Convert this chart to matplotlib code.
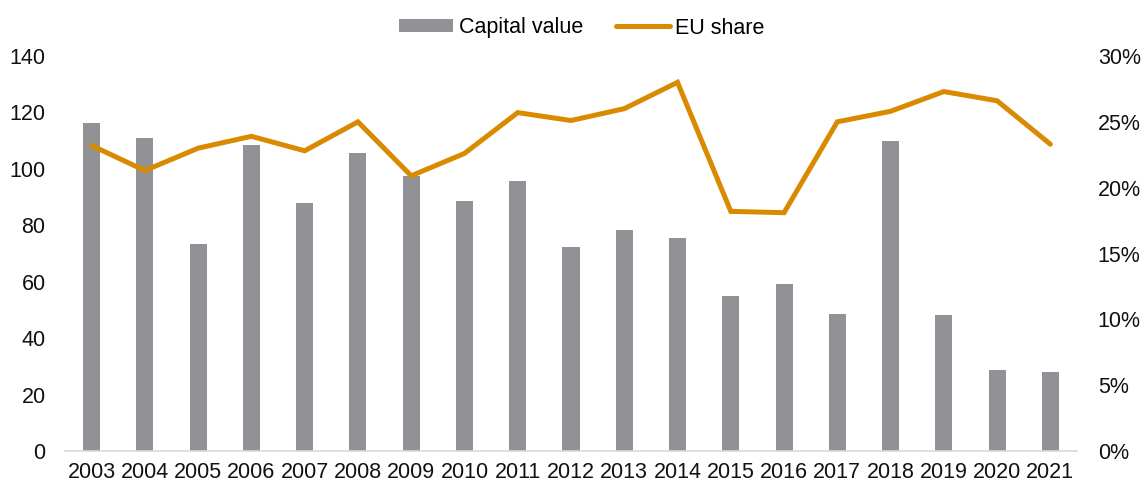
import matplotlib
matplotlib.use("Agg")
import matplotlib.pyplot as plt
from matplotlib.ticker import FuncFormatter

years = ["2003", "2004", "2005", "2006", "2007", "2008", "2009", "2010", "2011", "2012",
         "2013", "2014", "2015", "2016", "2017", "2018", "2019", "2020", "2021"]
capital_value = [116.3, 111.0, 73.4, 108.5, 87.9, 105.6, 97.5, 88.6, 95.7, 72.3,
                 78.3, 75.5, 54.9, 59.2, 48.6, 109.9, 48.2, 28.7, 28.0]
eu_share = [23.2, 21.3, 23.0, 23.9, 22.8, 25.0, 20.9, 22.6, 25.7, 25.1,
            26.0, 28.0, 18.2, 18.1, 25.0, 25.8, 27.3, 26.6, 23.3]

plt.rcParams['font.family'] = ['Liberation Sans', 'DejaVu Sans']

fig = plt.figure(figsize=(11.41, 4.84), dpi=100)
ax = fig.add_axes([65 / 1141, 33 / 484, (1077 - 65) / 1141, (451 - 56) / 484])
ax2 = ax.twinx()

x = list(range(len(years)))
bars = ax.bar(x, capital_value, width=0.32, color='#929196', label='Capital value', zorder=2)
line, = ax2.plot(x, eu_share, color='#D98A00', linewidth=3.6, solid_capstyle='round',
                 solid_joinstyle='miter', label='EU share', zorder=3)

ax.set_xlim(-0.5, len(years) - 0.5)
ax.set_ylim(0, 140)
ax.set_yticks(range(0, 141, 20))
ax2.set_ylim(0, 30)
ax2.set_yticks(range(0, 31, 5))
ax2.yaxis.set_major_formatter(FuncFormatter(lambda v, p: f"{int(v)}%"))

ax.set_xticks(x)
ax.set_xticklabels(years)

for a in (ax, ax2):
    for s in ['top', 'right', 'left', 'bottom']:
        a.spines[s].set_visible(False)
ax.spines['bottom'].set_visible(True)
ax.spines['bottom'].set_color('#d9d9d9')
ax.spines['bottom'].set_linewidth(1.2)

fs = 15.5
ax.tick_params(axis='y', length=0, labelsize=fs, pad=14, labelcolor='#111111')
ax.tick_params(axis='x', length=0, labelsize=fs, pad=8, labelcolor='#111111')
ax2.tick_params(axis='y', length=0, labelsize=fs, pad=15, labelcolor='#111111')

ax.set_zorder(ax2.get_zorder() - 1)
ax.patch.set_visible(False)

fig.legend([bars, line], ['Capital value', 'EU share'], loc='center',
           bbox_to_anchor=(582 / 1141, 1 - 28 / 484), ncol=2, frameon=False,
           fontsize=fs, handlelength=2.5, handleheight=0.55, handletextpad=0.25,
           columnspacing=1.55)

fig.savefig('out.png', dpi=100)
